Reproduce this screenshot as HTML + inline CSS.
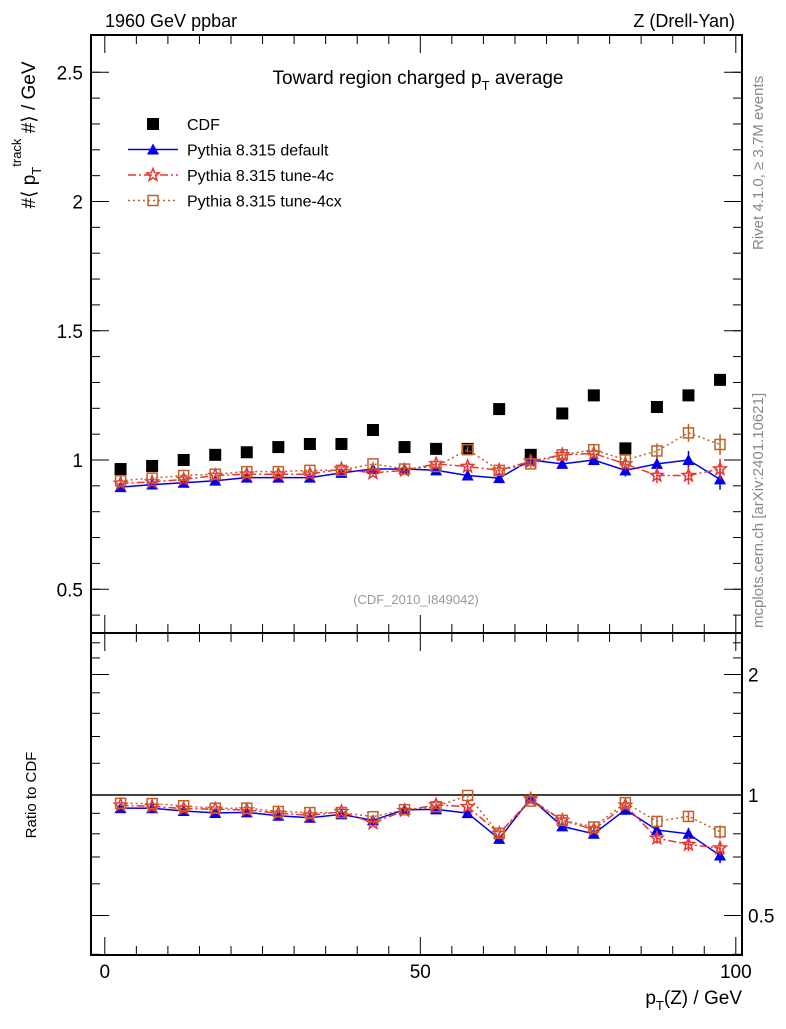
<!DOCTYPE html>
<html><head><meta charset="utf-8"><style>
body{margin:0;background:#fff;}
svg text{font-family:"Liberation Sans",sans-serif;}
</style></head><body>
<svg id="chart" width="786" height="1024" xmlns="http://www.w3.org/2000/svg">
<g id="main"></g>
<g id="ratio"></g>
<text x="105" y="27" font-size="18">1960 GeV ppbar</text>
<text x="735" y="27" font-size="18" text-anchor="end">Z (Drell-Yan)</text>
<text x="418" y="84" font-size="19" text-anchor="middle">Toward region charged p<tspan font-size="13" dy="6">T</tspan><tspan dy="-6"> average</tspan></text>
<text x="416" y="604" font-size="13" fill="#999" text-anchor="middle">(CDF_2010_I849042)</text>
<text transform="translate(763,250) rotate(-90)" font-size="15" fill="#888">Rivet 4.1.0, ≥ 3.7M events</text>
<text transform="translate(763,628) rotate(-90)" font-size="15" fill="#888">mcplots.cern.ch [arXiv:2401.10621]</text>
<text transform="translate(35,135) rotate(-90)" font-size="19" text-anchor="middle">#⟨ p<tspan font-size="13" dy="6">T</tspan><tspan font-size="13" dy="-20">track</tspan><tspan dy="14"> #⟩ / GeV</tspan></text>
<text transform="translate(36,795) rotate(-90)" font-size="15" text-anchor="middle">Ratio to CDF</text>
<text x="742" y="1004" font-size="19" text-anchor="end">p<tspan font-size="13" dy="6">T</tspan><tspan dy="-6">(Z) / GeV</tspan></text>
<g id="legend"></g>
</svg>
<script>
const xCenters=[2.5,7.5,12.5,17.5,22.5,27.5,32.5,37.5,42.5,47.5,52.5,57.5,62.5,67.5,72.5,77.5,82.5,87.5,92.5,97.5];
const cdfValues=[0.965,0.977,1.0,1.02,1.03,1.05,1.062,1.062,1.116,1.05,1.043,1.043,1.197,1.02,1.18,1.25,1.045,1.205,1.25,1.31];
const defaultValues=[0.895,0.905,0.912,0.92,0.932,0.932,0.932,0.95,0.965,0.965,0.96,0.94,0.93,1.0,0.985,1.0,0.96,0.985,1.0,0.925];
const tune4cValues=[0.91,0.915,0.925,0.94,0.945,0.945,0.945,0.965,0.95,0.96,0.985,0.975,0.96,0.995,1.02,1.025,0.985,0.94,0.94,0.965];
const tune4cxValues=[0.92,0.93,0.94,0.945,0.955,0.955,0.96,0.96,0.985,0.965,0.975,1.04,0.96,0.985,1.02,1.04,1.0,1.035,1.105,1.06];
const modelErrors=[0.005,0.005,0.005,0.005,0.005,0.006,0.006,0.007,0.008,0.009,0.01,0.012,0.014,0.016,0.018,0.02,0.024,0.03,0.035,0.04];
const mainTicks=[0.5,1,1.5,2,2.5];
const ratioTicks=[0.5,1,2];
const xTicks=[0,50,100];

const NS="http://www.w3.org/2000/svg";
const L=91,R=742,MT=35,MB=633,RB=955;
const X=v=>104.8+v*6.31;
const YM=v=>460-(v-1)*258.5;
const YR=v=>795-Math.log2(v)*120.5;
function el(tag,attrs,parent){const e=document.createElementNS(NS,tag);for(const k in attrs)e.setAttribute(k,attrs[k]);parent.appendChild(e);return e;}
const main=document.getElementById('main'),ratio=document.getElementById('ratio'),leg=document.getElementById('legend');

function frame(g,top,bot,Y,major,minor,labelL,labelR){
  const r=el('rect',{x:L,y:top,width:R-L,height:bot-top,fill:'none',stroke:'#000','stroke-width':2},g);
  
  
  for(const v of minor){const y=Y(v);if(y<top||y>bot)continue;
    el('line',{x1:L,x2:L+9,y1:y,y2:y,stroke:'#000'},g);el('line',{x1:R-9,x2:R,y1:y,y2:y,stroke:'#000'},g);}
  for(const v of major){const y=Y(v);
    el('line',{x1:L,x2:L+18,y1:y,y2:y,stroke:'#000'},g);el('line',{x1:R-18,x2:R,y1:y,y2:y,stroke:'#000'},g);
    if(labelL){const t=el('text',{x:L-8,y:y+7,'font-size':19,'text-anchor':'end'},g);t.textContent=v;
      
      }
    if(labelR){const t=el('text',{x:R+6,y:y+7,'font-size':19},g);t.textContent=v;
      
      }
  }
  for(let v=0;v<=100;v+=5){const x=X(v);const len=v%50==0?18:9;
    el('line',{x1:x,x2:x,y1:bot-len,y2:bot,stroke:'#000'},g);el('line',{x1:x,x2:x,y1:top,y2:top+len,stroke:'#000'},g);}
}
const mainMinor=[];for(let v=0.4;v<=2.6;v+=0.1)mainMinor.push(+v.toFixed(1));
frame(main,MT,MB,YM,mainTicks,mainMinor,true,false);
const ratioMinor=[0.4,0.6,0.7,0.8,0.9,1.2,1.4,1.6,1.8,2.2,2.4];
frame(ratio,MB,RB,YR,ratioTicks,ratioMinor,false,true);
for(const v of xTicks){const t=el('text',{x:X(v),y:978,'font-size':19,'text-anchor':'middle'},ratio);t.textContent=v;
  
  }
const one=el('line',{x1:L,x2:R,y1:YR(1),y2:YR(1),stroke:'#000','stroke-width':1.5},ratio);



function marker(g,type,x,y,color){
  let m;
  if(type==='sq')m=el('rect',{x:x-6,y:y-6,width:12,height:12,fill:'#000'},g);
  else if(type==='tri')m=el('polygon',{points:`${x},${y-6} ${x-6},${y+5} ${x+6},${y+5}`,fill:color},g);
  else if(type==='star'){let p=[];for(let i=0;i<10;i++){const r=i%2?2.8:6.5,a=-Math.PI/2+i*Math.PI/5;p.push((x+r*Math.cos(a)).toFixed(1)+','+(y+r*Math.sin(a)).toFixed(1));}
    m=el('polygon',{points:p.join(' '),fill:'none',stroke:color,'stroke-width':1.5},g);}
  else m=el('rect',{x:x-5,y:y-5,width:10,height:10,fill:'none',stroke:color,'stroke-width':1.5},g);
  return m;
}
const series=[
 {name:'default',vals:defaultValues,color:'#0000ee',type:'tri',dash:''},
 {name:'tune-4c',vals:tune4cValues,color:'#ee3333',type:'star',dash:'8,3,2,3'},
 {name:'tune-4cx',vals:tune4cxValues,color:'#c0602a',type:'open',dash:'2,3'}];
function drawSeries(g,Y,vals,s,errs){
  const pts=xCenters.map((x,i)=>X(x).toFixed(1)+','+Y(vals[i]).toFixed(1)).join(' ');
  const pl=el('polyline',{points:pts,fill:'none',stroke:s.color,'stroke-width':1.5,'stroke-dasharray':s.dash},g);
  
  
  xCenters.forEach((x,i)=>{
    const e=errs[i];
    el('line',{x1:X(x),x2:X(x),y1:Y(vals[i]-e),y2:Y(vals[i]+e),stroke:s.color,'stroke-width':1.5},g);
    const m=marker(g,s.type,X(x),Y(vals[i]),s.color);
    
    
  });
}
xCenters.forEach((x,i)=>{const m=marker(main,'sq',X(x),YM(cdfValues[i]));
  
  });
series.forEach(s=>{
  drawSeries(main,YM,s.vals,s,modelErrors);
  const rv=s.vals.map((v,i)=>v/cdfValues[i]);
  const re=modelErrors.map((e,i)=>e/cdfValues[i]);
  drawSeries(ratio,YR,rv,s,re);
});
const items=[{label:'CDF',type:'sq',color:'#000',dash:null},
 {label:'Pythia 8.315 default',type:'tri',color:'#0000ee',dash:''},
 {label:'Pythia 8.315 tune-4c',type:'star',color:'#ee3333',dash:'8,3,2,3'},
 {label:'Pythia 8.315 tune-4cx',type:'open',color:'#c0602a',dash:'2,3'}];
items.forEach((it,i)=>{
  const y=124+i*25.5;
  if(it.dash!==null)el('line',{x1:128,x2:178,y1:y,y2:y,stroke:it.color,'stroke-width':1.5,'stroke-dasharray':it.dash},leg);
  const m=marker(leg,it.type,153,y,it.color);
  
  
  const t=el('text',{x:187,y:y+6,'font-size':16},leg);t.textContent=it.label;
  
  
});
</script>
</body></html>
